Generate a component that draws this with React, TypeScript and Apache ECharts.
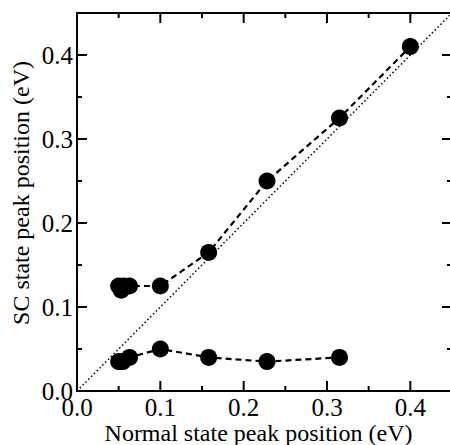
import React, { useEffect, useRef } from "react";
import * as echarts from "echarts";

const upperX = [0.05, 0.053, 0.056, 0.063, 0.1, 0.158, 0.228, 0.315, 0.4];
const upperY = [0.125, 0.12, 0.125, 0.125, 0.125, 0.165, 0.25, 0.325, 0.41];
const lowerX = [0.05, 0.055, 0.063, 0.1, 0.158, 0.228, 0.315];
const lowerY = [0.035, 0.035, 0.04, 0.05, 0.04, 0.035, 0.04];
const diagX = [0, 0.45];
const diagY = [0, 0.45];
const axisMin = 0;
const axisMax = 0.45;
const majorStep = 0.1;
const majorTicks = [0, 0.1, 0.2, 0.3, 0.4];
const minorTicks = [0.05, 0.15, 0.25, 0.35];
const sides = ["bottom", "top", "left", "right"];

const FONT = "'Liberation Serif', 'Times New Roman', 'DejaVu Serif', serif";
const TICK_COLOR = "#000";

export default function App() {
  const ref = useRef<HTMLDivElement>(null);
  useEffect(() => {
    if (!ref.current) return;
    const chart = echarts.init(ref.current, undefined, { renderer: "svg" });
    const lbl = {
      show: true,
      fontFamily: FONT,
      fontSize: 25,
      color: "#000",
      margin: 4,
      formatter: (v: number) => (Math.abs(v - axisMax) < 1e-9 ? "" : v.toFixed(1)),
    };
    const frame = (pos: string, labels: boolean, name?: string) => ({
      type: "value",
      position: pos,
      min: axisMin,
      max: axisMax,
      interval: majorStep,
      splitLine: { show: false },
      axisLine: { show: true, onZero: false, lineStyle: { color: "#000", width: 2 } },
      axisTick: { show: false },
      axisLabel: labels ? lbl : { show: false },
      ...(name
        ? {
            name,
            nameLocation: "middle",
            nameGap: 30,
            nameMoveOverlap: false,
            nameTextStyle: { fontFamily: FONT, fontSize: 24, color: "#000", padding: [0, 12, 0, 0] },
          }
        : {}),
    });
    const tickItems: { v: number; side: string; len: number }[] = [];
    sides.forEach((side) => {
      majorTicks.forEach((v) => tickItems.push({ v, side, len: 10 }));
      minorTicks.forEach((v) => tickItems.push({ v, side, len: 5 }));
    });
    const toPairs = (xs: number[], ys: number[]) => xs.map((x, i) => [x, ys[i]]);
    chart.setOption({
      animation: false,
      backgroundColor: "#fff",
      grid: { left: 77, top: 13, right: -2, bottom: 54, containLabel: false, outerBoundsMode: "none" },
      xAxis: [frame("bottom", true, "Normal state peak position (eV)"), frame("top", false)],
      yAxis: [frame("left", true), frame("right", false)],
      graphic: [
        {
          type: "text",
          x: 21,
          y: 193,
          rotation: Math.PI / 2,
          style: {
            text: "SC state peak position (eV)",
            font: `24px ${FONT}`,
            fill: "#000",
            align: "center",
            verticalAlign: "middle",
          },
        },
      ],
      series: [
        {
          type: "custom",
          name: "ticks",
          silent: true,
          clip: false,
          z: 5,
          xAxisIndex: 0,
          yAxisIndex: 0,
          data: tickItems.map((t) => [t.v, t.v]),
          renderItem: (params: any, api: any) => {
            const t = tickItems[params.dataIndex];
            let p: number[];
            let q: number[];
            if (t.side === "bottom") {
              p = api.coord([t.v, axisMin]);
              q = [p[0], p[1] - t.len];
            } else if (t.side === "top") {
              p = api.coord([t.v, axisMax]);
              q = [p[0], p[1] + t.len];
            } else if (t.side === "left") {
              p = api.coord([axisMin, t.v]);
              q = [p[0] + t.len, p[1]];
            } else {
              p = api.coord([axisMax, t.v]);
              q = [p[0] - t.len, p[1]];
            }
            return {
              type: "line",
              shape: { x1: p[0], y1: p[1], x2: q[0], y2: q[1] },
              style: { stroke: TICK_COLOR, lineWidth: 2 },
            };
          },
        },
        {
          type: "line",
          name: "y = x",
          data: toPairs(diagX, diagY),
          symbol: "none",
          lineStyle: { color: "#000", width: 1.5, type: [1.5, 2.5] },
          silent: true,
        },
        {
          type: "line",
          name: "upper",
          data: toPairs(upperX, upperY),
          symbol: "circle",
          symbolSize: 17,
          itemStyle: { color: "#000" },
          lineStyle: { color: "#000", width: 2.2, type: [6, 4] },
        },
        {
          type: "line",
          name: "lower",
          data: toPairs(lowerX, lowerY),
          symbol: "circle",
          symbolSize: 17,
          itemStyle: { color: "#000" },
          lineStyle: { color: "#000", width: 2.2, type: [6, 4] },
        },
      ],
    });
    return () => chart.dispose();
  }, []);
  return <div ref={ref} style={{ width: 450, height: 445, position: "absolute", left: 0, top: 0 }} />;
}
